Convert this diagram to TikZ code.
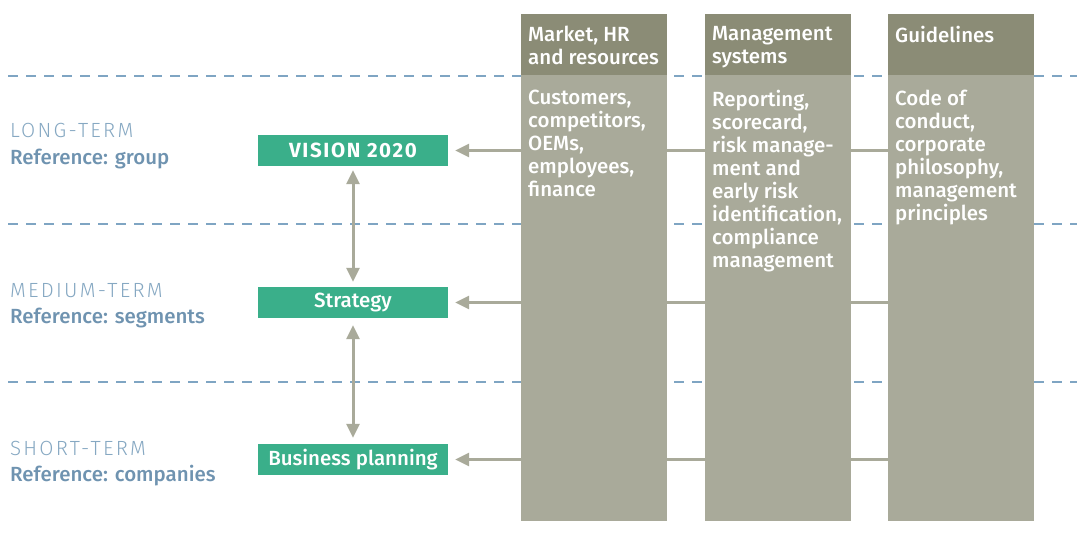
\documentclass[tikz,border=0pt]{standalone}
\usepackage{fontspec}
\setmainfont{Fira Sans}[UprightFont=* Medium,BoldFont=* Bold]
\newfontfamily\termfont{Fira Sans Light}
\usetikzlibrary{positioning,arrows.meta,calc}
\definecolor{headgrey}{HTML}{8B8C76}
\definecolor{bodygrey}{HTML}{A9AA9A}
\definecolor{termblue}{HTML}{86A8C2}
\definecolor{refblue}{HTML}{6F93B0}
\definecolor{dashblue}{HTML}{7FA5C3}
\definecolor{plangreen}{HTML}{3AAF8A}

\tikzset{
  colhead/.style={fill=headgrey,minimum width=146pt,minimum height=61pt,anchor=north west,inner sep=0pt},
  colbody/.style={fill=bodygrey,minimum width=146pt,minimum height=446pt,anchor=north west,inner sep=0pt},
  coltext/.style={text=white,font=\fontsize{20.5}{23}\selectfont,align=left,anchor=north west,inner sep=0pt},
  greenbox/.style={fill=plangreen,text=white,minimum width=190pt,minimum height=31pt,inner sep=0pt,font=\fontsize{20.5}{20}\selectfont},
  termlabel/.style={text=termblue,anchor=base west,inner sep=0pt,font=\termfont\fontsize{20.5}{20}\selectfont\addfontfeatures{LetterSpace=11}},
  reflabel/.style={text=refblue,anchor=base west,inner sep=0pt,font=\fontsize{20.5}{20}\selectfont},
  feed/.style={draw=bodygrey,line width=3pt},
  tip/.tip={Triangle[length=14pt,width=13pt]},
  dashline/.style={draw=dashblue,line width=1.3pt,dash pattern=on 10pt off 8pt}
}

\begin{document}
\begin{tikzpicture}[x=1pt,y=-1pt]
\useasboundingbox (0,0) rectangle (1077,538);

% Time horizons
\foreach \y in {76,224,382} \draw[dashline] (8,\y) -- (1077,\y);

% Columns
\foreach \i/\x in {1/521,2/705,3/888} {
  \node[colbody] (c\i b) at (\x,75) {};
  \node[colhead] (c\i h) at (\x,14) {};
}

% Column texts
\node[coltext] (t1h) at (528,26) {Market, HR\\and resources};
\node[coltext] (t2h) at (712,26) {Management\\systems};
\node[coltext] (t3h) at (895,26) {Guidelines};
\node[coltext] (t1b) at (528,90) {Customers,\\competitors,\\OEMs,\\employees,\\finance};
\node[coltext] (t2b) at (712,90) {Reporting,\\scorecard,\\risk manage-\\ment and\\early risk\\identification,\\compliance\\management};
\node[coltext] (t3b) at (895,90) {Code of\\conduct,\\corporate\\philosophy,\\management\\principles};

% Planning levels
\node[greenbox,font=\fontsize{20.5}{20}\selectfont\bfseries\addfontfeatures{LetterSpace=8}] (vis) at (353,150.5) {VISION 2020};
\node[greenbox] (str) at (353,302.5) {Strategy};
\node[greenbox] (bp) at (353,459.5) {Business planning};

% Left labels
\node[termlabel] (lt) at (10,137) {LONG-TERM};
\node[reflabel] (ltr) at (10,164) {Reference: group};
\node[termlabel] (mt) at (10,297) {MEDIUM-TERM};
\node[reflabel] (mtr) at (10,323) {Reference: segments};
\node[termlabel] (st) at (10,455) {SHORT-TERM};
\node[reflabel] (str2) at (10,481) {Reference: companies};

% Feeds from the columns
\foreach \n in {vis,str,bp} {
  \draw[feed,-tip,shorten >=7pt] (c1b.west |- \n) -- (\n.east);
  \draw[feed] (c1b.east |- \n) -- (c2b.west |- \n);
  \draw[feed] (c2b.east |- \n) -- (c3b.west |- \n);
}

% Between levels
\draw[feed,tip-tip,shorten <=4pt,shorten >=5pt] (vis.south) -- (str.north);
\draw[feed,tip-tip,shorten <=7pt,shorten >=6pt] (str.south) -- (bp.north);
\end{tikzpicture}
\end{document}
